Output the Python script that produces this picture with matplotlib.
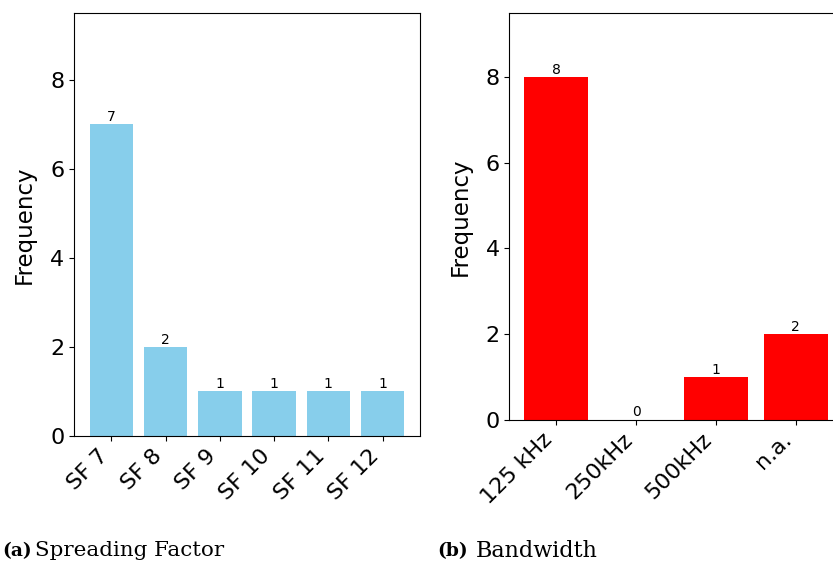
import matplotlib
matplotlib.use("Agg")
import matplotlib.pyplot as plt

# Spreading factor counts
sf_labels = ["SF 7", "SF 8", "SF 9", "SF 10", "SF 11", "SF 12"]
sf_counts = [7, 2, 1, 1, 1, 1]

# Bandwidth counts
bw_labels = ["125 kHz", "250kHz", "500kHz", "n.a."]
bw_counts = [8, 0, 1, 2]

W, H = 833, 570
fig = plt.figure(figsize=(W / 100, H / 100), dpi=100)

TICK_FS = 16
LABEL_FS = 16.5
VAL_FS = 10


def px_axes(x0, y0, x1, y1):
    return fig.add_axes([x0 / W, 1 - y1 / H, (x1 - x0) / W, (y1 - y0) / H])


ax1 = px_axes(74, 13, 420, 436)
ax2 = px_axes(509.3, 13, 842.8, 419.5)

for ax, labels, counts, color in [
    (ax1, sf_labels, sf_counts, "skyblue"),
    (ax2, bw_labels, bw_counts, "red"),
]:
    bars = ax.bar(labels, counts, color=color, width=0.8)
    ax.bar_label(bars, labels=[str(c) for c in counts], fontsize=VAL_FS)
    ax.set_ylim(0, 9.5)
    ax.set_yticks([0, 2, 4, 6, 8])
    ax.set_ylabel("Frequency", fontsize=LABEL_FS, labelpad=10)
    ax.tick_params(axis="both", labelsize=TICK_FS)
    plt.setp(ax.get_xticklabels(), rotation=45, ha="right")

serif = ["DejaVu Serif"]
cap_y = 1 - 551 / H
fig.text(2 / W, cap_y, "(a)", fontsize=13.5, fontweight="bold",
         family=serif, va="center", ha="left")
fig.text(35 / W, cap_y, "Spreading Factor", fontsize=15.4,
         family=serif, va="center", ha="left")
fig.text(437 / W, cap_y, "(b)", fontsize=13.5, fontweight="bold",
         family=serif, va="center", ha="left")
fig.text(476 / W, cap_y, "Bandwidth", fontsize=16,
         family=serif, va="center", ha="left")

fig.savefig("out.png", dpi=100)
